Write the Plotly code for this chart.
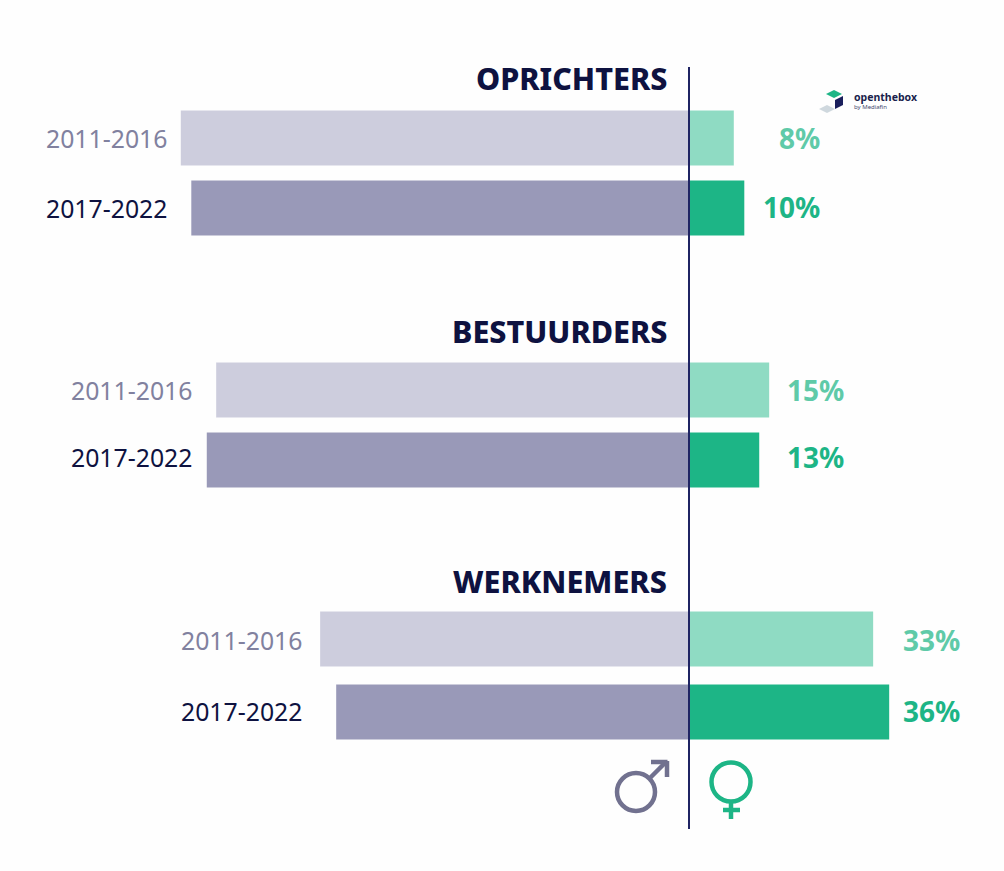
import plotly.graph_objects as go

W, H = 1004, 871
groups = ["OPRICHTERS", "BESTUURDERS", "WERKNEMERS"]
periods = ["2011-2016", "2017-2022"]
men = [91.9, 90, 85.5, 87.2, 66.7, 63.8]
women = [8.1, 10, 14.5, 12.7, 33.3, 36.2]
women_labels = ["8%", "10%", "15%", "13%", "33%", "36%"]

# layout constants (pixels)
ROW_Y = [138, 208, 390, 460, 639, 712]
TEXT_Y = [138, 208, 390, 457, 640, 711]
TITLE_Y = [78, 331, 581]
YEAR_X = [46, 71, 181]
PCT_RIGHT = [820, 844, 960]
ZERO = 689
SCALE = 5.53
FONT = "Noto Sans"
NAVY = "#0e1240"
MID = "#81819f"
GREEN = "#1db586"
LGREEN = "#5fcaa8"

C_M = ["#cdcddd", "#9999b8"] * 3
C_F = ["#8fdbc3", GREEN] * 3

fig = go.Figure()
fig.add_trace(go.Bar(y=ROW_Y, x=[-v for v in men], orientation="h", width=55,
                     marker=dict(color=C_M, line_width=0), hoverinfo="skip"))
fig.add_trace(go.Bar(y=ROW_Y, x=women, orientation="h", width=55,
                     marker=dict(color=C_F, line_width=0), hoverinfo="skip"))

def px(x): return x / W
def py(y): return 1 - y / H

def ann(x, y, text, size, color, anchor="left", weight=400):
    fig.add_annotation(xref="paper", yref="paper", x=px(x), y=py(y), text=text,
                       showarrow=False, xanchor=anchor, yanchor="middle",
                       align=anchor, borderpad=0, borderwidth=0,
                       font=dict(family=FONT, size=size, color=color, weight=weight))

for i, g in enumerate(groups):
    ann(667, TITLE_Y[i], g, 30.5, NAVY, "right", 800)
    for j in range(2):
        r = i * 2 + j
        ann(YEAR_X[i], TEXT_Y[r], periods[j], 24.8, MID if j == 0 else NAVY)
        ann(PCT_RIGHT[i], TEXT_Y[r] - 0.5, women_labels[r], 28,
            LGREEN if j == 0 else GREEN, "right", 700)

def line(x0, y0, x1, y1, color, w):
    fig.add_shape(type="line", xref="paper", yref="paper", x0=px(x0), y0=py(y0),
                  x1=px(x1), y1=py(y1), line=dict(color=color, width=w), layer="above")

def circle(cx, cy, r, color, w):
    fig.add_shape(type="circle", xref="paper", yref="paper", x0=px(cx - r), x1=px(cx + r),
                  y0=py(cy - r), y1=py(cy + r), line=dict(color=color, width=w), layer="above")

def poly(points, color):
    d = "M " + " L ".join(f"{px(a):.5f},{py(b):.5f}" for a, b in points) + " Z"
    fig.add_shape(type="path", xref="paper", yref="paper", path=d,
                  fillcolor=color, line_width=0, layer="above")

# centre axis
line(ZERO, 67, ZERO, 829, "#1f2463", 2)

# male symbol
GM = "#71718f"
circle(636, 792, 19, GM, 4.5)
line(650, 778, 666, 762, GM, 4.5)
line(651, 762, 667.5, 762, GM, 4.5)
line(667, 761, 667, 777, GM, 4.5)

# female symbol
circle(731, 782, 19.5, GREEN, 4.5)
line(731, 802, 731, 819, GREEN, 4.5)
line(723, 810, 740, 810, GREEN, 4.5)

# logo
poly([(826, 94), (834, 90), (842, 94), (834, 98)], GREEN)
poly([(835, 100), (843, 96), (843, 105), (835, 109)], "#1a1f5c")
poly([(819, 109), (827, 105), (835, 109), (827, 113)], "#cfd8de")
ann(854, 97, "openthebox", 10.5, "#1a1f4c", "left", 700)
ann(854, 107, "by Mediafin", 6, "#44486e", "left", 400)

fig.update_layout(
    width=W, height=H, margin=dict(l=0, r=0, t=0, b=0), autosize=False,
    barmode="overlay", showlegend=False,
    paper_bgcolor="#fefefe", plot_bgcolor="#fefefe",
    xaxis=dict(range=[-ZERO / SCALE, (W - ZERO) / SCALE], visible=False, fixedrange=True),
    yaxis=dict(range=[H, 0], visible=False, fixedrange=True),
)
fig.write_html("out.html", config={"displayModeBar": False},
               post_script="document.body.style.margin='0';document.documentElement.style.overflow='hidden';")
